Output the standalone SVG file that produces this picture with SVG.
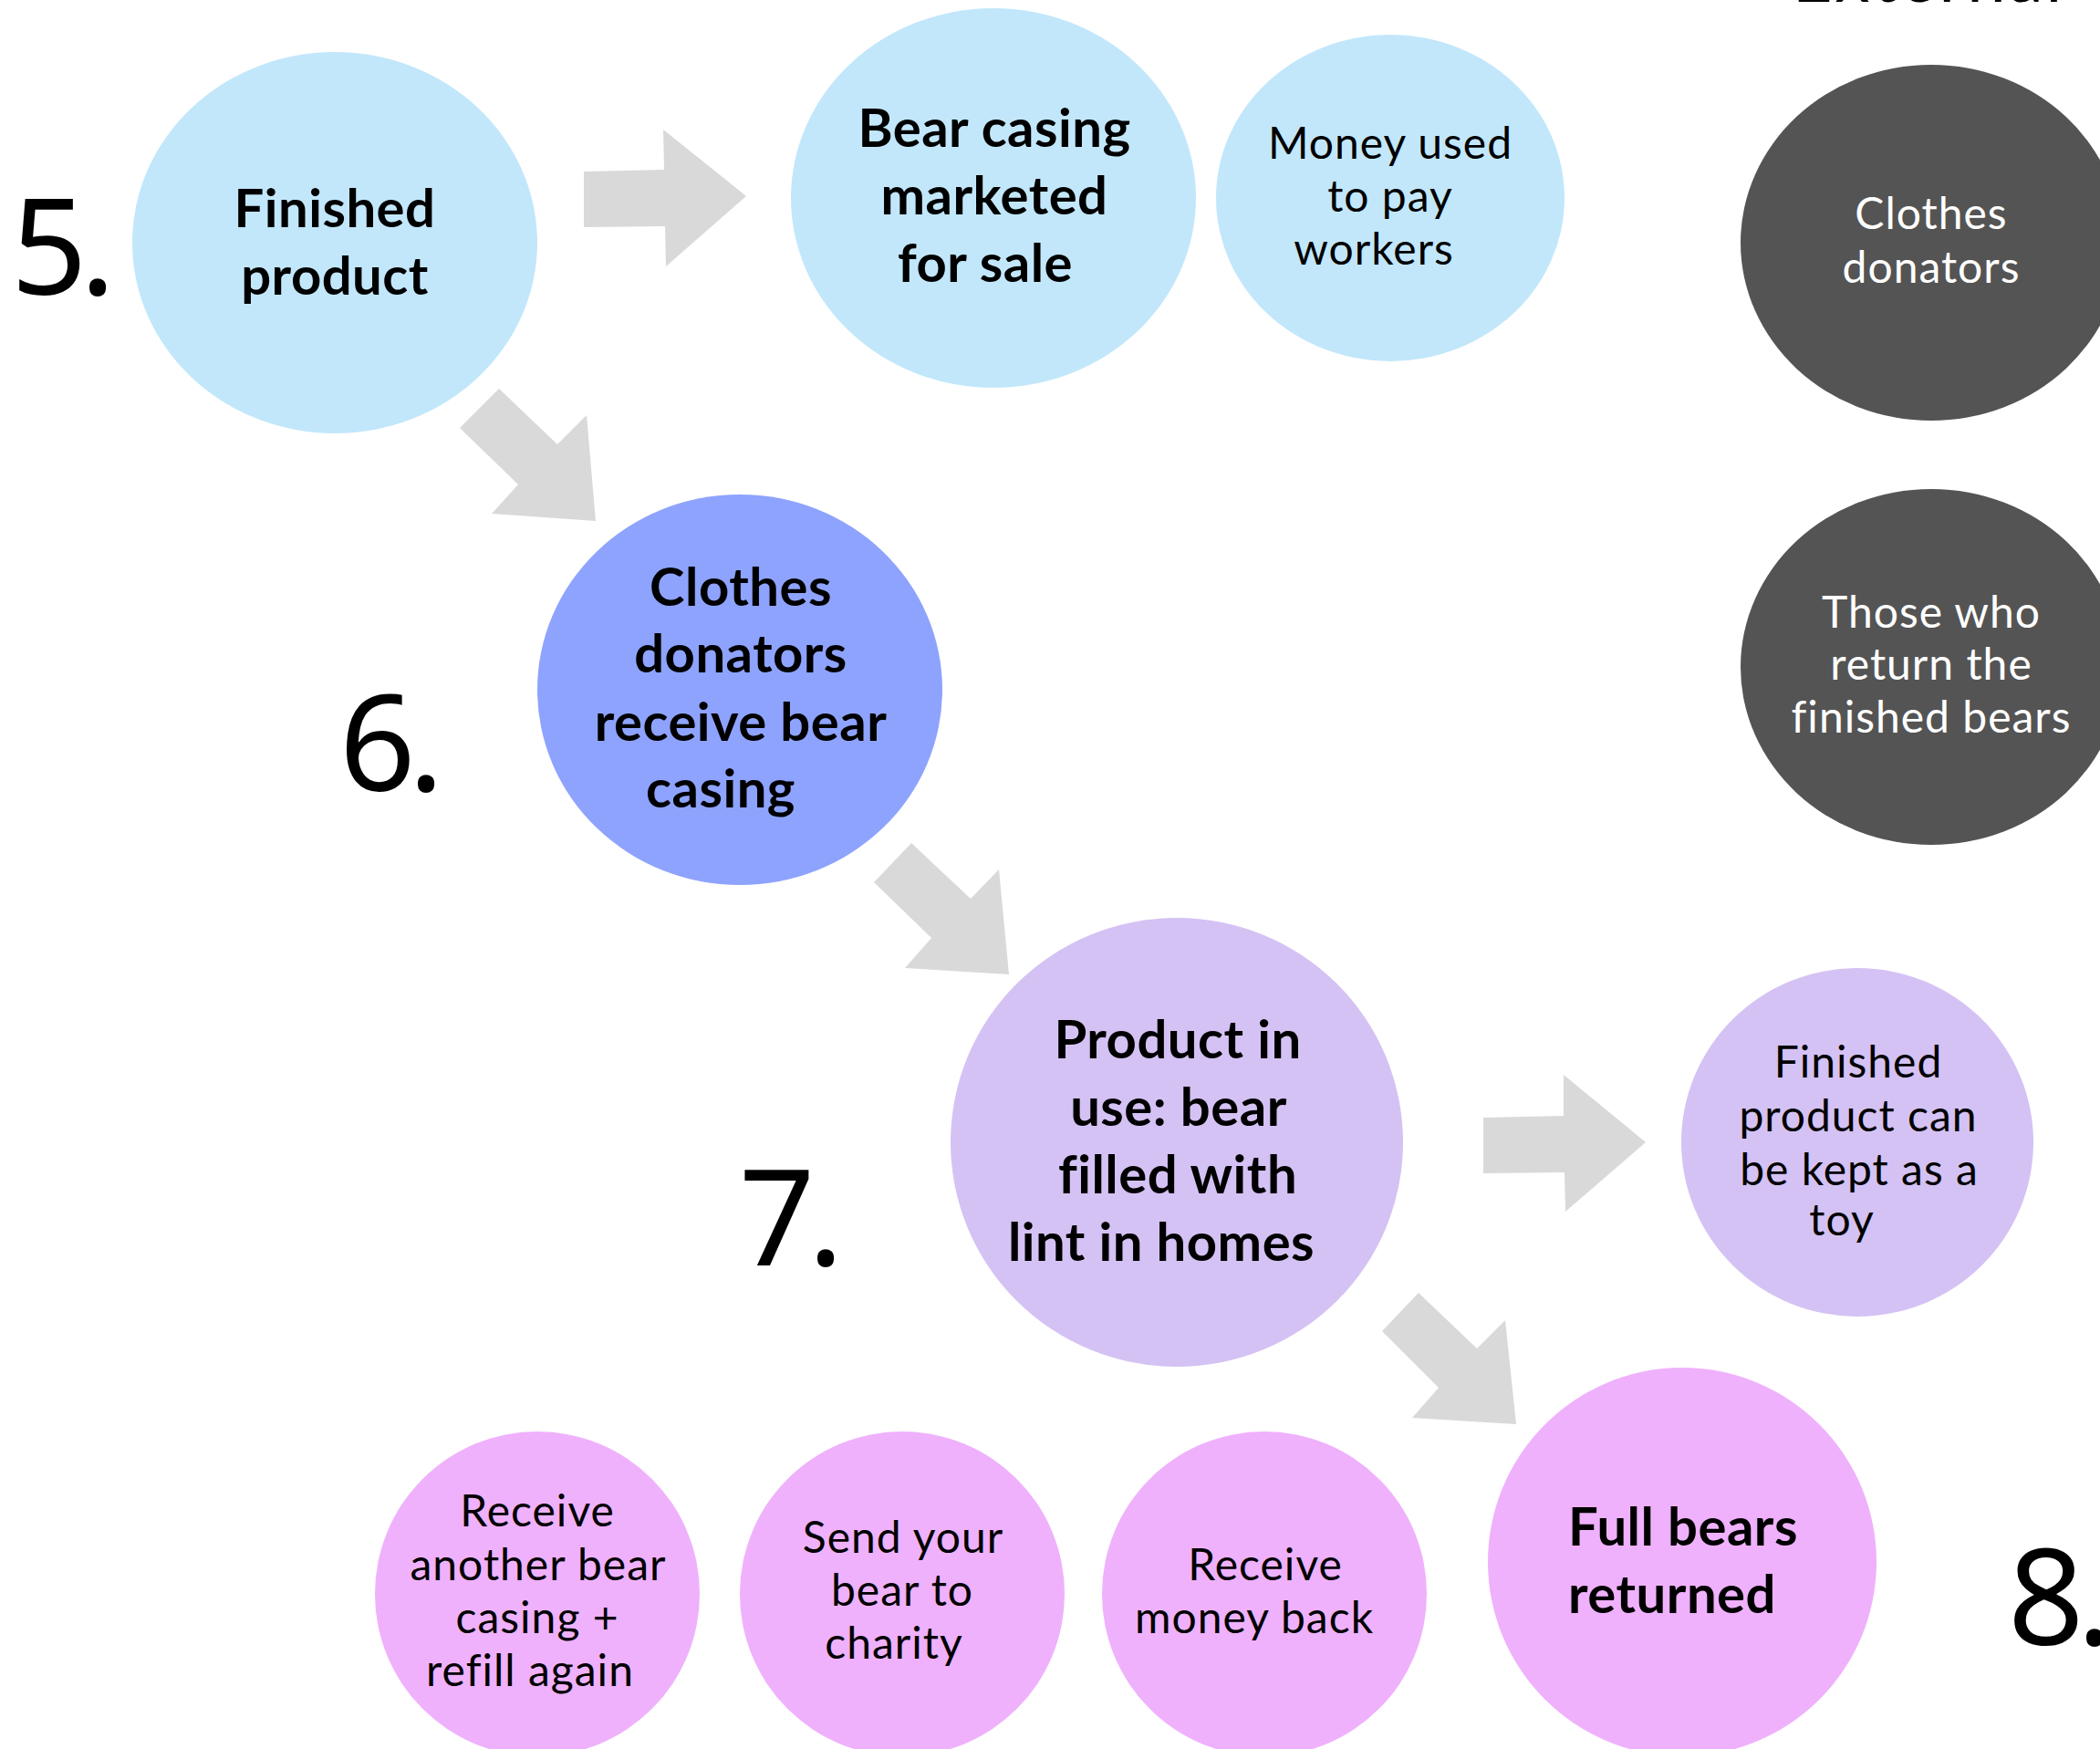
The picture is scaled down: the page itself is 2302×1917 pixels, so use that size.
<svg xmlns="http://www.w3.org/2000/svg" width="2302" height="1917" viewBox="0 0 2302 1917">
<style>
.b{font-family:Lato,"Noto Sans",sans-serif;font-weight:bold;font-size:58px;fill:#000;text-anchor:middle;letter-spacing:0.5px}
.r{font-family:Lato,"Noto Sans",sans-serif;font-size:48px;fill:#000;text-anchor:middle;letter-spacing:1px}
.w{fill:#fff}
.num{font-family:"Noto Sans","DejaVu Sans",sans-serif;font-size:146px;fill:#000;letter-spacing:-8px}
.arrow{fill:#d9d9d9}
.lb{fill:#c2e7fb}.pb{fill:#8ea3fd}.lv{fill:#d4c2f4}.pk{fill:#efb1fc}.dk{fill:#545454}
</style>
<rect width="2302" height="1917" fill="#fff"/>
<g id="connectors">
<polygon class="arrow" points="640,188 728,186 727,142 818,215 730,292 729,248 640,249"/>
<polygon class="arrow" points="547,426 611,487 643,455 653,571 539,563 568,531 504,469"/>
<polygon class="arrow" points="999,924 1064,985 1095,953 1106,1068 992,1061 1021,1028 958,967"/>
<polygon class="arrow" points="1626,1225 1714,1223 1714,1178 1804,1252 1716,1328 1715,1285 1626,1286"/>
<polygon class="arrow" points="1555,1417 1619,1478 1650,1447 1662,1561 1548,1554 1577,1521 1515,1459"/>
</g>
<g id="labels">
<text class="r" x="2114" y="2" style="font-size:76px;letter-spacing:3px">External</text>
<text class="num" x="12" y="323">5.</text>
<text class="num" x="372" y="867">6.</text>
<text class="num" x="810" y="1387">7.</text>
<text class="num" x="2201" y="1803">8.</text>
</g>
<g id="n-finished-product">
<ellipse class="lb" cx="367" cy="266" rx="222" ry="209"/>
<text class="b" x="367" y="249">Finished</text>
<text class="b" x="367" y="323">product</text>
</g>
<g id="n-bear-casing">
<ellipse class="lb" cx="1089" cy="217" rx="222" ry="208"/>
<text class="b" x="1090" y="161">Bear casing</text>
<text class="b" x="1090" y="235">marketed</text>
<text class="b" x="1080" y="309">for sale</text>
</g>
<g id="n-money">
<ellipse class="lb" cx="1524" cy="217" rx="191" ry="179"/>
<text class="r" x="1524" y="174">Money used</text>
<text class="r" x="1524" y="232">to pay</text>
<text class="r" x="1506" y="290">workers</text>
</g>
<g id="n-ext-donators">
<ellipse class="dk" cx="2117" cy="266" rx="209" ry="195"/>
<text class="r w" x="2117" y="251">Clothes</text>
<text class="r w" x="2117" y="310">donators</text>
</g>
<g id="n-ext-returners">
<ellipse class="dk" cx="2117" cy="731" rx="209" ry="195"/>
<text class="r w" x="2117" y="688">Those who</text>
<text class="r w" x="2117" y="745">return the</text>
<text class="r w" x="2117" y="803">finished bears</text>
</g>
<g id="n-donators-receive">
<ellipse class="pb" cx="811" cy="756" rx="222" ry="214"/>
<text class="b" x="812" y="664">Clothes</text>
<text class="b" x="812" y="737">donators</text>
<text class="b" x="812" y="812">receive bear</text>
<text class="b" x="790" y="885">casing</text>
</g>
<g id="n-product-in-use">
<ellipse class="lv" cx="1290" cy="1252" rx="248" ry="246"/>
<text class="b" x="1291" y="1160">Product in</text>
<text class="b" x="1292" y="1234">use: bear</text>
<text class="b" x="1291" y="1308">filled with</text>
<text class="b" x="1273" y="1382">lint in homes</text>
</g>
<g id="n-toy">
<ellipse class="lv" cx="2036" cy="1252" rx="193" ry="191"/>
<text class="r" x="2037" y="1181">Finished</text>
<text class="r" x="2037" y="1240">product can</text>
<text class="r" x="2038" y="1299">be kept as a</text>
<text class="r" x="2019" y="1354">toy</text>
</g>
<g id="n-full-bears">
<ellipse class="pk" cx="1844" cy="1712" rx="213" ry="213"/>
<text class="b" x="1845" y="1694">Full bears</text>
<text class="b" x="1833" y="1768">returned</text>
</g>
<g id="n-money-back">
<ellipse class="pk" cx="1386" cy="1747" rx="178" ry="178"/>
<text class="r" x="1387" y="1732">Receive</text>
<text class="r" x="1375" y="1790">money back</text>
</g>
<g id="n-charity">
<ellipse class="pk" cx="989" cy="1747" rx="178" ry="178"/>
<text class="r" x="990" y="1702">Send your</text>
<text class="r" x="989" y="1760">bear to</text>
<text class="r" x="980" y="1818">charity</text>
</g>
<g id="n-another">
<ellipse class="pk" cx="589" cy="1747" rx="178" ry="178"/>
<text class="r" x="589" y="1673">Receive</text>
<text class="r" x="590" y="1732">another bear</text>
<text class="r" x="589" y="1790">casing +</text>
<text class="r" x="581" y="1848">refill again</text>
</g>
</svg>
